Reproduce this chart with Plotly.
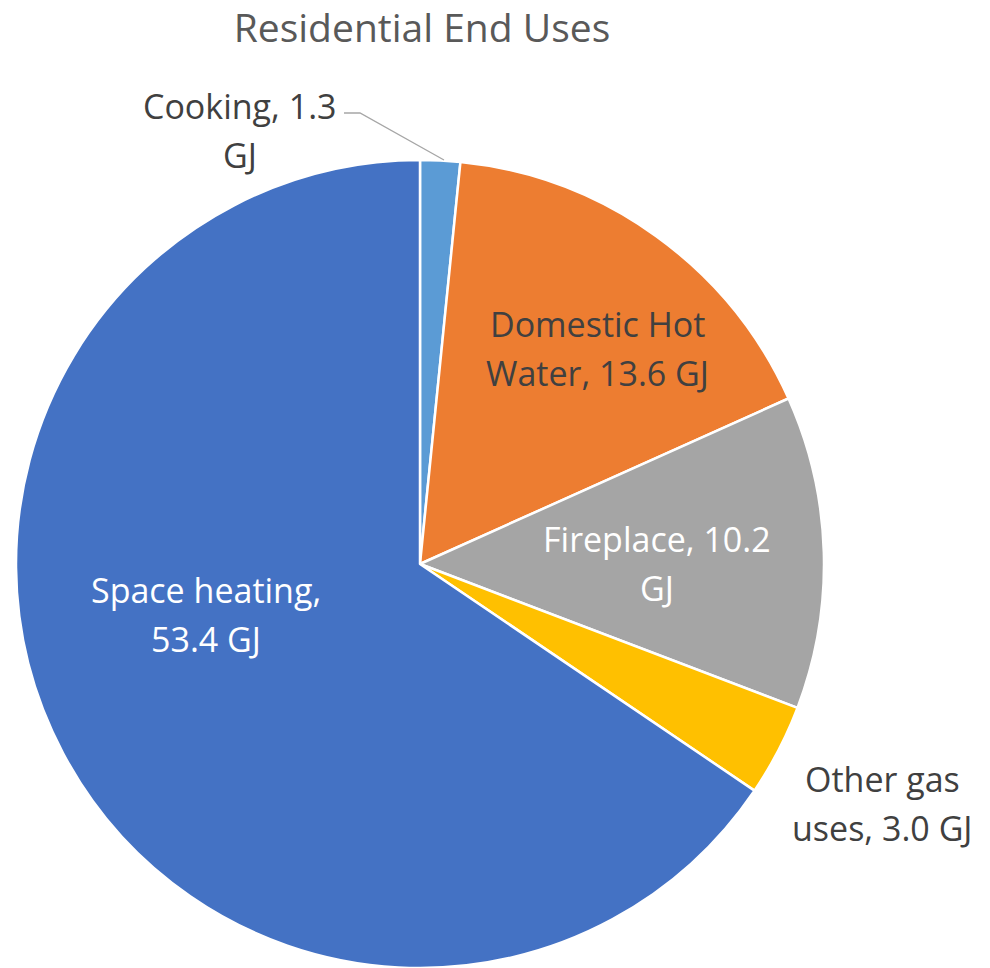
import plotly.graph_objects as go

# Residential natural gas end uses (GJ per household)
categories = ["Cooking", "Domestic Hot Water", "Fireplace", "Other gas uses", "Space heating"]
values_gj = [1.3, 13.6, 10.2, 3.0, 53.4]
colors = ["#5B9BD5", "#ED7D31", "#A5A5A5", "#FFC000", "#4472C4"]

# Label text, wrapped the way each label is laid out on the chart
label_lines = [
    ["Cooking, {v}", "GJ"],
    ["Domestic Hot", "Water, {v} GJ"],
    ["Fireplace, {v}", "GJ"],
    ["Other gas", "uses, {v} GJ"],
    ["Space heating,", "{v} GJ"],
]
label_colors = ["#404040", "#404040", "#FFFFFF", "#404040", "#FFFFFF"]
# first-line centre of each label in pixels (x, y from top)
label_pos = [(240, 106), (597, 324), (657, 539), (882, 779), (206, 590)]
LINE_GAP = 49  # px between label lines

W, H = 990, 968
FONT = "Open Sans, Noto Sans, sans-serif"

fig = go.Figure(
    go.Pie(
        labels=categories,
        values=values_gj,
        sort=False,
        direction="clockwise",
        rotation=0,
        marker=dict(colors=colors, line=dict(color="#FFFFFF", width=2.5)),
        textinfo="none",
        hoverinfo="label+value",
        domain=dict(x=[15 / W, 825 / W], y=[0, 808 / H]),
        showlegend=False,
    )
)

for lines, col, (px, py), v in zip(label_lines, label_colors, label_pos, values_gj):
    for i, s in enumerate(lines):
        fig.add_annotation(
            x=px / W, y=1 - (py + i * LINE_GAP) / H, xref="paper", yref="paper",
            text=s.format(v=f"{v:.1f}"), showarrow=False, align="center",
            xanchor="center", yanchor="middle",
            font=dict(family=FONT, size=34, color=col),
        )

# leader line for the small cooking slice
fig.add_shape(
    type="path", xref="paper", yref="paper",
    path=f"M {344 / W} {1 - 113 / H} L {360 / W} {1 - 113 / H} L {444 / W} {1 - 160 / H}",
    line=dict(color="#A6A6A6", width=1.3),
)

fig.update_layout(
    width=W, height=H,
    margin=dict(l=0, r=0, t=0, b=0),
    paper_bgcolor="#FFFFFF",
    plot_bgcolor="#FFFFFF",
    title=dict(
        text="Residential End Uses",
        x=422 / W, xanchor="center",
        y=1 - 28 / H, yanchor="middle",
        font=dict(family=FONT, size=39, color="#595959"),
    ),
)

fig.write_html("out.html")
